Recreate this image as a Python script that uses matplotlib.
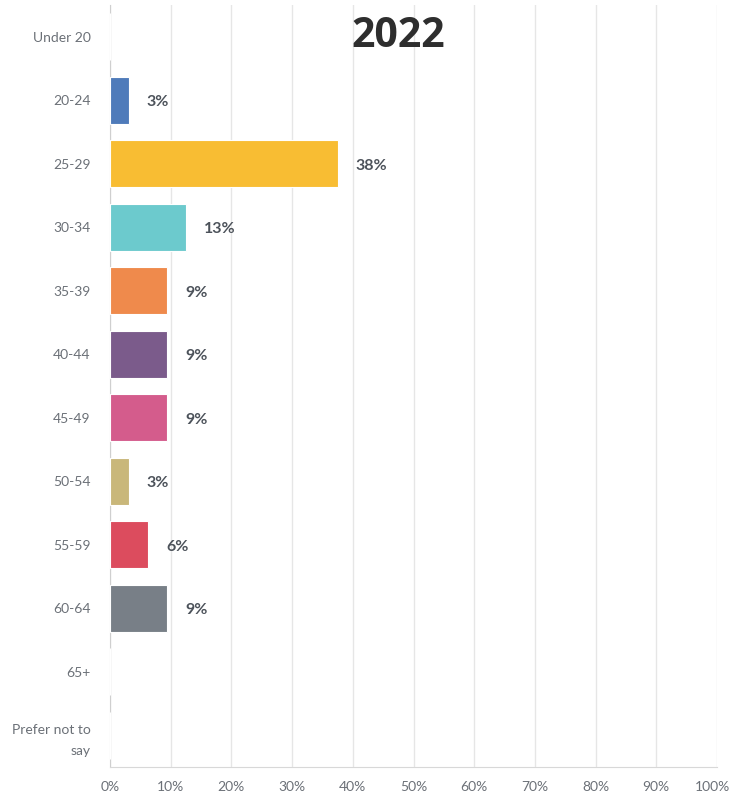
import numpy as np
import matplotlib
matplotlib.use("Agg")
import matplotlib.pyplot as plt
from matplotlib.transforms import ScaledTranslation

categories = ["Under 20", "20-24", "25-29", "30-34", "35-39", "40-44",
              "45-49", "50-54", "55-59", "60-64", "65+", "Prefer not to\nsay"]
values = [0, 3.125, 37.5, 12.5, 9.375, 9.375, 9.375, 3.125, 6.25, 9.375, 0, 0]
labels = ["", "3%", "38%", "13%", "9%", "9%", "9%", "3%", "6%", "9%", "", ""]
colors = ["#4f7bba", "#4f7bba", "#f8bd33", "#6ccacd", "#ef8a4c", "#7b5b8b",
          "#d45c8c", "#c9b77a", "#dc4c5e", "#787f87", "#787f87", "#787f87"]
xticks = [0, 10, 20, 30, 40, 50, 60, 70, 80, 90, 100]

fig = plt.figure(figsize=(7.31, 7.97), dpi=100)
ax = fig.add_axes([110/731, 30/797, 607/731, 762/797])

y = np.arange(len(categories))
ax.barh(y, values, height=0.74, color=colors, edgecolor="white", linewidth=0.8, zorder=3)

for i in range(len(values)):
    if labels[i]:
        ax.annotate(labels[i], (values[i], y[i]), xytext=(18, -2),
                    textcoords="offset pixels",
                    va="center", ha="left", fontsize=11.5, fontweight="bold",
                    color="#4c525a", family="Lato")

ax.set_xlim(0, 100)
ax.set_ylim(len(categories) - 0.5, -0.5)
ax.set_yticks(y)
ax.set_yticklabels(categories, fontsize=10, color="#6b7077", family="Lato",
                   linespacing=1.9)
ax.set_xticks(xticks)
ax.set_xticklabels([str(t) + "%" for t in xticks], fontsize=10, color="#6b7077", family="Lato")
ax.tick_params(axis="both", length=0)
ax.tick_params(axis="y", pad=14)
ax.tick_params(axis="x", pad=10)

# keep "100%" inside the picture
last = ax.get_xticklabels()[-1]
last.set_transform(last.get_transform() + ScaledTranslation(-3/72, 0, fig.dpi_scale_trans))

ax.grid(axis="x", color="#e6e6e6", linewidth=1, zorder=0)
for s in ["top", "right"]:
    ax.spines[s].set_visible(False)
ax.spines["left"].set_color("#cfcfcf")
ax.spines["bottom"].set_color("#d8d8d8")

ax.text(47.5, 0, "2022", fontsize=29.5, fontweight="bold", color="#2e2e2e",
        family="Open Sans", ha="center", va="center")

fig.savefig("out.png", dpi=100)
